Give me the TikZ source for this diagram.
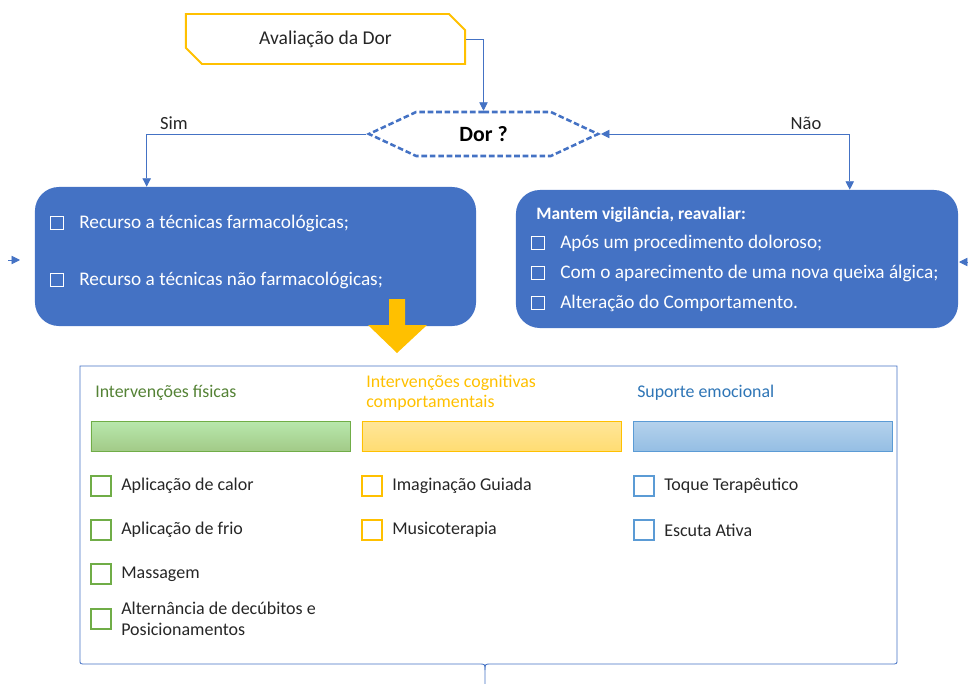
\documentclass[tikz,border=0pt]{standalone}
\usepackage{fontspec}
\setmainfont{Carlito}
\usetikzlibrary{arrows.meta,shapes.misc,shapes.symbols}

\definecolor{dorblue}{HTML}{4472C4}
\definecolor{doryellow}{HTML}{FFC000}
\definecolor{dorgreen}{HTML}{70AD47}
\definecolor{dkgreen}{HTML}{548235}
\definecolor{barblue}{HTML}{5B9BD5}
\definecolor{suptxt}{HTML}{2E75B6}
\definecolor{txtgray}{HTML}{262626}

\tikzset{
  conn/.style={dorblue, line width=0.6pt, -{Triangle[length=6pt,width=6pt]}},
  bluebox/.style={fill=dorblue, rounded corners=0.6cm, inner sep=0pt},
  wbox/.style={draw=white, line width=0.6pt, minimum size=0.34cm, inner sep=0pt},
  witem/.style={anchor=west, text=white, font=\fontsize{13.7}{15}\selectfont, inner sep=0pt},
  head/.style={anchor=west, align=left, font=\fontsize{12.7}{14.5}\selectfont, inner sep=0pt},
  bar/.style={line width=0.6pt, minimum width=6.475cm, minimum height=0.75cm, inner sep=0pt},
  tick/.style={line width=0.9pt, minimum size=0.5cm, inner sep=0pt},
  item/.style={anchor=west, text=txtgray, align=left, font=\fontsize{12.8}{14.5}\selectfont, inner sep=0pt},
}

\begin{document}
\begin{tikzpicture}[x=0.025cm, y=-0.025cm]
    \useasboundingbox (0,0) rectangle (968,684);

    % start
    \node[chamfered rectangle, chamfered rectangle corners={north east,south west},
          chamfered rectangle xsep=0.2cm, chamfered rectangle ysep=0.2cm,
          draw=doryellow, line width=1.4pt, minimum width=6.975cm, minimum height=1.25cm,
          text=txtgray, font=\fontsize{13.9}{15}\selectfont] (aval) at (325.5,39) {Avaliação da Dor};

    % decision
    \node[signal, signal to=west and east, signal pointer angle=50, draw=dorblue,
          line width=1.8pt, dash pattern=on 4pt off 2pt, minimum width=5.725cm,
          minimum height=1.1cm, inner sep=0pt, font=\bfseries\fontsize{15.5}{17}\selectfont] (dor) at (483.5,134) {Dor ?};

    % left and right boxes
    \node[bluebox, minimum width=11.025cm, minimum height=3.475cm] (farma) at (255.5,256.5) {};
    \node[bluebox, minimum width=11.05cm, minimum height=3.45cm] (vigil) at (737,259) {};

    % left box items
    \foreach \y/\t in {223/Recurso a técnicas farmacológicas;,280/Recurso a técnicas não farmacológicas;} {
        \node[wbox] (fb\y) at (57,\y) {};
        \node[witem] (ft\y) at (79,\y) {\t};
    }

    % right box items
    \node[witem, font=\bfseries\fontsize{12.4}{14}\selectfont] (vtitle) at (536,215) {Mantem vigilância, reavaliar:};
    \foreach \y/\t in {243/Após um procedimento doloroso;,273/Com o aparecimento de uma nova queixa álgica;,303/Alteração do Comportamento.} {
        \node[wbox] (vb\y) at (538,\y) {};
        \node[witem] (vt\y) at (560,\y) {\t};
    }

    % connectors
    \draw[conn] (aval.east) -| (dor.north);
    \draw[conn] (dor.west) -| ([xshift=2.8cm]farma.north west);
    \draw[conn, {Triangle[length=6pt,width=6pt]}-{Triangle[length=6pt,width=6pt]}] (dor.east) -| ([xshift=8.35cm]vigil.north west);
    \node[text=txtgray, font=\fontsize{13.2}{15}\selectfont] (sim) at (174,123) {Sim};
    \node[text=txtgray, font=\fontsize{13.2}{15}\selectfont] (nao) at (806,123) {Não};

    % loose arrow ends
    \coordinate (lstub) at (8,260);
    \coordinate (rstub) at (968,262);
    \draw[conn] (lstub) -- ++(12,0);
    \draw[conn] (rstub) -- ++(-9,0);

    % big yellow arrow
    \draw[fill=doryellow, draw=none] (389,299) -- (405,299) -- (405,325) -- (427,325)
        -- (397,353) -- (368,325) -- (389,325) -- cycle;

    % interventions frame
    \draw[dorblue, line width=0.6pt] (80,660) -- (80,366) -- (897,366) -- (897,660)
        .. controls (897,664) .. (891,664) -- (491,664) .. controls (485,664) .. (485,670) -- (485,684);
    \draw[dorblue, line width=0.6pt] (80,660) .. controls (80,664) .. (86,664) -- (479,664)
        .. controls (485,664) .. (485,670);

    % column heads
    \node[head, text=dkgreen] (hfis) at (95,393) {Intervenções físicas};
    \node[head, text=doryellow] (hcog) at (366,393) {Intervenções cognitivas\\comportamentais};
    \node[head, text=suptxt] (hemo) at (637,393) {Suporte emocional};

    % coloured bars
    \node[bar, draw=dorgreen, top color=green!30!dorgreen!40, bottom color=dorgreen!65] (bfis) at (220.5,436) {};
    \node[bar, draw=doryellow, top color=doryellow!40, bottom color=doryellow!55] (bcog) at (491.5,436) {};
    \node[bar, draw=barblue, top color=barblue!45, bottom color=barblue!65] (bemo) at (763,436) {};

    % physical items
    \foreach \y/\t in {486/Aplicação de calor,530/Aplicação de frio,574/Massagem,619/Alternância de decúbitos e\\Posicionamentos} {
        \node[tick, draw=dorgreen] (gb\y) at (101,\y) {};
        \node[item] (gt\y) at (121,\y) {\t};
    }

    % cognitive items
    \foreach \y/\t in {486/Imaginação Guiada,530/Musicoterapia} {
        \node[tick, draw=doryellow] (yb\y) at (372,\y) {};
        \node[item] (yt\y) at (392,\y) {\t};
    }

    % emotional items
    \foreach \y/\t in {486/Toque Terapêutico,530/Escuta Ativa} {
        \node[tick, draw=barblue] (bb\y) at (644,\y) {};
        \node[item] (bt\y) at (664,\y) {\t};
    }
\end{tikzpicture}
\end{document}
